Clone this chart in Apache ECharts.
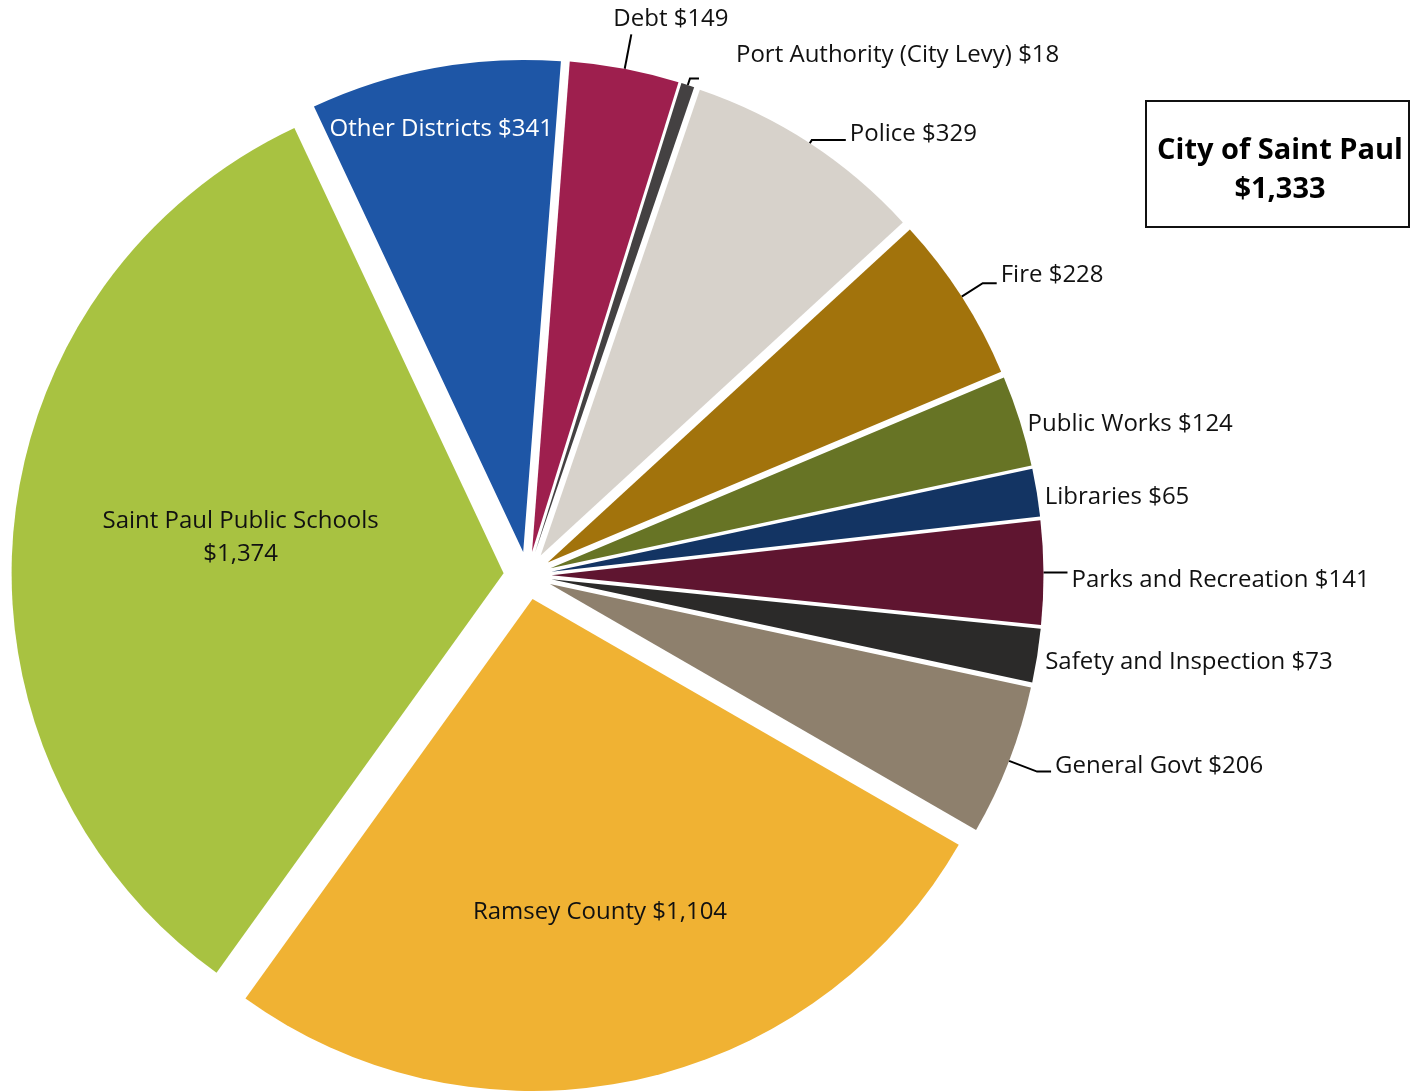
<!DOCTYPE html>
<html>
<head>
<meta charset="utf-8">
<script src="https://cdn.jsdelivr.net/npm/echarts@6/dist/echarts.min.js"></script>
<style>
html,body{margin:0;padding:0;background:#fff;}
#chart{width:1410px;height:1092px;}
</style>
</head>
<body>
<div id="chart"></div>
<script>
// ---- data ----
const categories = ['Debt', 'Port Authority (City Levy)', 'Police', 'Fire', 'Public Works', 'Libraries',
  'Parks and Recreation', 'Safety and Inspection', 'General Govt', 'Ramsey County',
  'Saint Paul Public Schools', 'Other Districts'];
const values = [149, 18, 329, 228, 124, 65, 141, 73, 206, 1104, 1374, 341];
const cityItems = ['Debt', 'Port Authority (City Levy)', 'Police', 'Fire', 'Public Works', 'Libraries',
  'Parks and Recreation', 'Safety and Inspection', 'General Govt'];
const boxTitle = 'City of Saint Paul';

// ---- styles ----
const colors = ['#9E1F4E', '#444142', '#D7D2CB', '#A2730C', '#677425', '#133463',
  '#5F1530', '#2B2A29', '#8E806D', '#F0B233', '#A8C241', '#1E56A6'];
const FONT = 'Open Sans';
const insideSet = { 'Ramsey County': 1, 'Saint Paul Public Schools': 1, 'Other Districts': 1 };
// label line lengths / visibility / text nudges per slice
// shift: vertical nudge of the text (negative = up), padH: [left, right] padding for horizontal nudge
const labelCfg = {
  'Debt': { len: 35, len2: 0, show: true, dist: -18, shift: -15 },
  'Port Authority (City Levy)': { len: 7, len2: 9, show: true, dist: 37, shift: -23 },
  'Police': { len: 4, len2: 34, show: true, dist: 4, shift: -6 },
  'Fire': { len: 25, len2: 14, show: true, dist: 4, shift: -8 },
  'Public Works': { len: 4, len2: 0, show: false, dist: 4, shift: 5 },
  'Libraries': { len: 4, len2: 0, show: false, dist: 4, shift: 5 },
  'Parks and Recreation': { len: 10, len2: 14, show: true, dist: 4, shift: 8 },
  'Safety and Inspection': { len: 4, len2: 0, show: false, dist: 4, shift: 6 },
  'General Govt': { len: 30, len2: 14, show: true, dist: 4, shift: -5 },
  'Ramsey County': { shift: 70, padH: [30, 0] },
  'Saint Paul Public Schools': { shift: -13, padH: [0, 30] },
  'Other Districts': { shift: -178, padH: [0, 74] }
};

const fmt = v => '$' + v.toLocaleString('en-US');

function labelText(name, i) {
  const c = labelCfg[name];
  const lines = name === 'Saint Paul Public Schools'
    ? ['{t|' + name + '}', '{t|' + fmt(values[i]) + '}']
    : ['{t|' + name + ' ' + fmt(values[i]) + '}'];
  if (c.shift < 0) lines.push('{b|\u00a0}');
  if (c.shift > 0) lines.unshift('{a|\u00a0}');
  return lines.join('\n');
}

const data = categories.map((name, i) => {
  const inside = !!insideSet[name];
  const c = labelCfg[name];
  const txtColor = name === 'Other Districts' ? '#ffffff' : '#111111';
  const sp = Math.max(1, Math.abs(c.shift) * 2);
  const item = {
    name: name,
    value: values[i],
    selected: true,
    itemStyle: { color: colors[i] },
    label: {
      position: inside ? 'inside' : 'outside',
      color: txtColor,
      formatter: labelText(name, i),
      rich: {
        t: { fontFamily: FONT, fontSize: 24, lineHeight: 33, color: txtColor },
        a: { fontSize: 1, lineHeight: sp },
        b: { fontSize: 1, lineHeight: sp }
      }
    }
  };
  if (c.padH) item.label.padding = [0, c.padH[1], 0, c.padH[0]];
  if (!inside) {
    item.label.distanceToLabelLine = c.dist;
    item.labelLine = { show: c.show, length: c.len, length2: c.len2 };
  } else {
    item.labelLine = { show: false };
  }
  return item;
});

const cityTotal = values.filter((v, i) => cityItems.indexOf(categories[i]) >= 0).reduce((a, b) => a + b, 0);

const chart = echarts.init(document.getElementById('chart'), null, { renderer: 'canvas' });
chart.setOption({
  animation: false,
  backgroundColor: '#ffffff',
  series: [{
    type: 'pie',
    center: [527.5, 575.5],
    radius: [0, 492],
    startAngle: 85.6,
    clockwise: true,
    selectedMode: 'multiple',
    selectedOffset: 24,
    avoidLabelOverlap: false,
    labelLayout: { hideOverlap: false },
    select: { itemStyle: {} },
    emphasis: { disabled: true },
    itemStyle: { borderWidth: 0 },
    label: {
      fontFamily: FONT,
      fontSize: 24,
      lineHeight: 33
    },
    labelLine: { lineStyle: { color: '#000000', width: 2 } },
    data: data
  }],
  graphic: [{
    type: 'rect',
    left: 1145, top: 100,
    shape: { width: 263, height: 126 },
    style: { fill: '#ffffff', stroke: '#111111', lineWidth: 2 }
  }, {
    type: 'text',
    x: 1280, y: 170,
    style: {
      text: boxTitle + '\n' + fmt(cityTotal),
      font: 'bold 29px "Open Sans"',
      lineHeight: 39,
      fill: '#000000',
      align: 'center',
      verticalAlign: 'middle'
    }
  }]
});
</script>
</body>
</html>
